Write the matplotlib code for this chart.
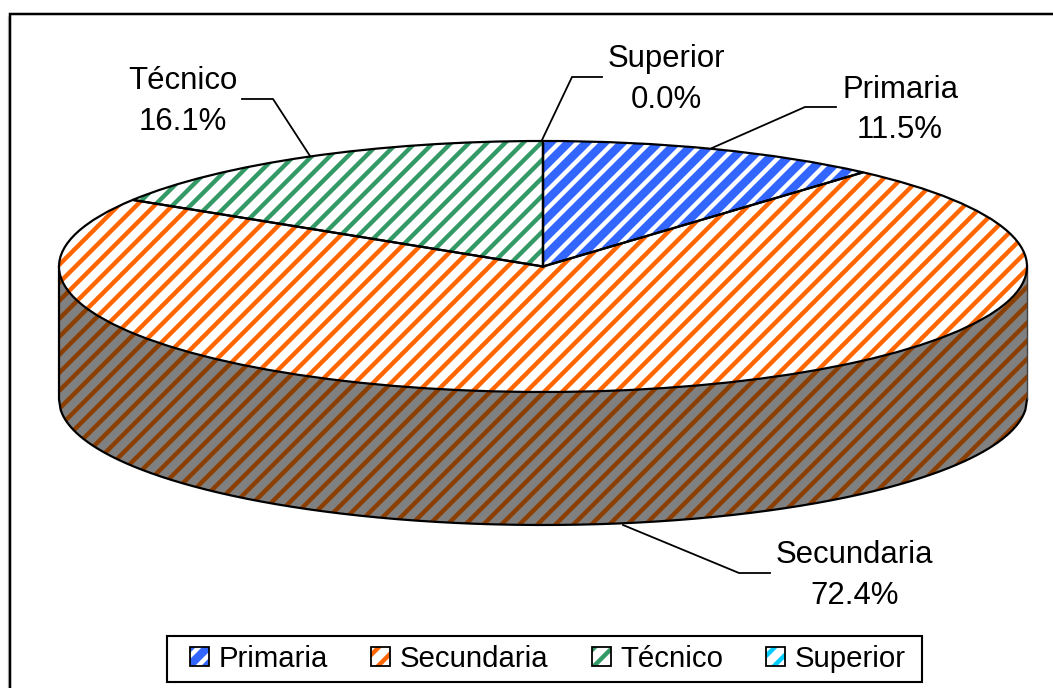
import numpy as np
import matplotlib
matplotlib.use("Agg")
import matplotlib.pyplot as plt
from matplotlib.patches import Patch, Rectangle
from matplotlib.legend_handler import HandlerPatch
from matplotlib.offsetbox import DrawingArea

# ---- data ----
categories = ["Primaria", "Secundaria", "Técnico", "Superior"]
values = [11.5, 72.4, 16.1, 0.0]
value_labels = ["11.5%", "72.4%", "16.1%", "0.0%"]

# ---- styles ----
face_colors = ["#3366FF", "#FFFFFF", "#FFFFFF", "#FFFFFF"]
hatch_colors = ["#FFFFFF", "#FF6600", "#339966", "#00CCFF"]
wall_face = "#808080"
wall_hatch = "#8A3E00"

W, H = 1053, 688
DPI = 108            # hatch tile size follows the dpi: gives the 19 px stripe period
PT = 72 / DPI        # points per pixel

plt.rcParams["font.family"] = ["Liberation Sans", "DejaVu Sans"]
plt.rcParams["hatch.linewidth"] = 4.4 * PT

fig = plt.figure(figsize=((W + 0.01) / DPI, (H + 0.01) / DPI), dpi=DPI, facecolor="white")

# geometry of the tilted disc, pixels
cx, cy, rx, ry, depth_px = 543, 266.5, 484, 125.5, 133
depth = depth_px / ry
m = 0.05
ax = fig.add_axes([
    (cx - (1 + m) * rx) / W,
    (H - (cy + depth_px + (1 + m) * ry)) / H,
    2 * (1 + m) * rx / W,
    (2 * (1 + m) * ry + depth_px) / H,
])

# top of the disc: hatched slices, then black outlines
wedges, _ = ax.pie(values, startangle=90, counterclock=False, colors=face_colors,
                   hatch="//", wedgeprops=dict(linewidth=0), radius=1)
for w, hc in zip(wedges, hatch_colors):
    w.set_edgecolor(hc)
    w.set_zorder(3)
outl, _ = ax.pie(values, startangle=90, counterclock=False,
                 wedgeprops=dict(facecolor="none", edgecolor="black", linewidth=2.2 * PT), radius=1)
for w in outl:
    w.set_zorder(4)
    w.set_clip_on(False)

ax.set_aspect("auto")
ax.set_xlim(-1 - m, 1 + m)
ax.set_ylim(-1 - m - depth, 1 + m)
ax.axis("off")

# wall of the disc
xs = np.linspace(-1, 1, 600)
low = -depth - np.sqrt(1 - xs ** 2)
ax.fill_between(xs, low, 0, facecolor=wall_face, edgecolor=wall_hatch, hatch="//", linewidth=0, zorder=1)
ax.plot(np.r_[-1, xs], np.r_[0, low], color="black", lw=2.2 * PT, zorder=2, clip_on=False)
ax.plot([1, 1], [0, -depth], color="#404040", lw=1.4 * PT, zorder=2, clip_on=False)

# overlay in pixel coordinates
ov = fig.add_axes([0, 0, 1, 1], zorder=5)
ov.set_xlim(0, W)
ov.set_ylim(H, 0)
ov.axis("off")

# chart frame (only top and left edges are visible)
ov.plot([8.2, 8.2], [16, H], color="#d0d0d0", lw=1.4 * PT, solid_capstyle="butt")
ov.plot([10, 10, W], [H, 14, 14], color="black", lw=2.5 * PT, solid_joinstyle="miter")

# data labels: centre x, first baseline, second baseline
label_pos = {
    "Primaria": (900, 98, 138),
    "Secundaria": (854.5, 563, 604),
    "Técnico": (183, 89, 130),
    "Superior": (666, 67, 108),
}
leaders = {
    "Primaria": [(712, 148), (805, 107), (836, 107)],
    "Secundaria": [(623, 525), (739, 573), (770, 573)],
    "Técnico": [(310, 156), (273, 99), (242, 99)],
    "Superior": [(542, 140), (572, 77), (602, 77)],
}
for cat, vl in zip(categories, value_labels):
    x, b1, b2 = label_pos[cat]
    ov.text(x, b1, cat, ha="center", va="baseline", fontsize=31.1 * PT, color="black")
    ov.text(x, b2, vl, ha="center", va="baseline", fontsize=31.1 * PT, color="black")
    px, py = zip(*leaders[cat])
    ov.plot(px, py, color="black", lw=1.8 * PT, solid_joinstyle="miter")


class SwatchHandler(HandlerPatch):
    def create_artists(self, legend, orig, xd, yd, width, height, fontsize, trans):
        fill = Rectangle((-xd, -yd), width, height, facecolor=orig.get_facecolor(),
                         edgecolor=orig.get_edgecolor(), hatch=orig.get_hatch(),
                         linewidth=0, transform=trans)
        box = Rectangle((-xd, -yd), width, height, facecolor="none", edgecolor="black",
                        linewidth=1.8 * PT, transform=trans)
        return [fill, box]


handles = [Patch(facecolor=f, edgecolor=h, hatch="//") for f, h in zip(face_colors, hatch_colors)]
legend_px = 29.4
leg = ov.legend(
    handles, categories, ncols=4, loc="center",
    bbox_to_anchor=(544.5, 659), bbox_transform=ov.transData,
    fontsize=legend_px * PT, frameon=True, fancybox=False, framealpha=1, edgecolor="black",
    borderpad=0.3, handlelength=0.65, handleheight=0.65, handletextpad=0.33,
    columnspacing=0, labelspacing=0, borderaxespad=0,
    handler_map={Patch: SwatchHandler()},
)
leg.get_frame().set_linewidth(2.1 * PT)

# gaps between legend entries and wider side padding (pixels)
row = leg._legend_handle_box
cols = row.get_children()
pad_px = 0.3 * legend_px
for pos, w_px in ((4, 16 - pad_px), (3, 43), (2, 43), (1, 43), (0, 23 - pad_px)):
    sp = DrawingArea(w_px * PT, 1, 0, 0)
    sp.set_figure(fig)
    cols.insert(pos, sp)

fig.savefig("out.png", dpi=DPI, facecolor="white")
